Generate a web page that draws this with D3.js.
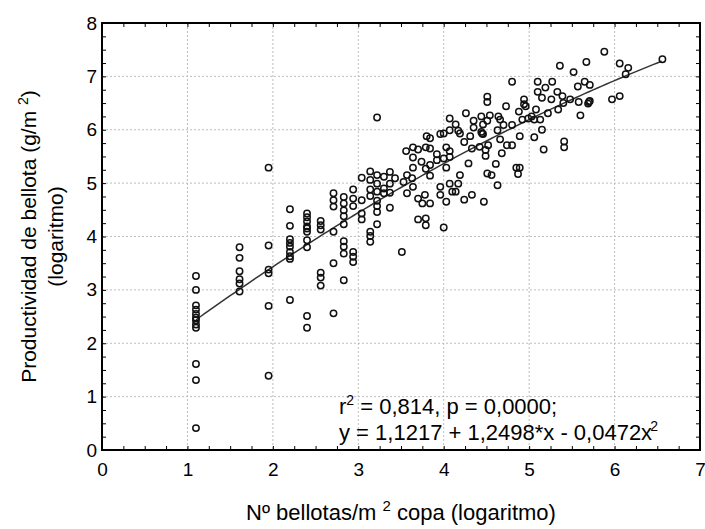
<!DOCTYPE html>
<html>
<head>
<meta charset="utf-8">
<script src="https://cdn.jsdelivr.net/npm/d3@7"></script>
<style>
  body { margin: 0; background: #fff; }
  svg { display: block; }
  text { font-family: "Liberation Sans", Arial, sans-serif; fill: #000; }
</style>
</head>
<body>
<div id="chart"></div>
<script>
// axis ticks
const xTicks = [0, 1, 2, 3, 4, 5, 6, 7];
const yTicks = [0, 1, 2, 3, 4, 5, 6, 7, 8];

// fitted quadratic printed on the chart: y = a + b*x + c*x^2
const fitCoef = [1.1217, 1.2498, -0.0472];
const fitRange = [1.10, 6.56];

const puntosBajos = [
  [1.10, 3.26], [1.10, 3.00], [1.10, 2.71], [1.10, 2.63], [1.10, 2.55], [1.10, 2.48],
  [1.10, 2.43], [1.10, 2.35], [1.10, 2.29], [1.10, 1.61], [1.10, 1.31], [1.10, 0.41],
  [1.61, 3.80], [1.61, 3.60], [1.61, 3.35], [1.61, 3.20], [1.61, 3.12], [1.61, 2.97],
  [1.95, 5.29], [1.95, 3.83], [1.95, 3.38], [1.95, 3.31], [1.95, 2.70], [1.95, 1.39],
  [2.20, 4.51], [2.20, 4.20], [2.20, 3.95], [2.20, 3.88], [2.20, 3.81], [2.20, 3.71],
  [2.20, 3.63], [2.20, 3.58], [2.20, 2.81],
  [2.40, 4.43], [2.40, 4.36], [2.40, 4.28], [2.40, 4.19], [2.40, 4.15], [2.40, 4.09],
  [2.40, 3.93], [2.40, 3.80], [2.40, 2.51], [2.40, 2.29],
  [2.56, 4.29], [2.56, 4.21], [2.56, 4.13], [2.56, 3.32], [2.56, 3.23], [2.56, 3.08],
  [2.71, 4.81], [2.71, 4.68], [2.71, 4.56], [2.71, 4.09], [2.71, 3.50], [2.71, 2.56],
  [2.83, 4.74], [2.83, 4.62], [2.83, 4.49], [2.83, 4.38], [2.83, 4.23], [2.83, 3.91],
  [2.83, 3.81], [2.83, 3.68], [2.83, 3.18],
  [2.94, 4.88], [2.94, 4.71], [2.94, 4.57], [2.94, 3.71], [2.94, 3.62], [2.94, 3.52],
  [3.04, 5.10], [3.04, 4.68], [3.04, 4.43], [3.04, 4.32],
  [3.14, 5.22], [3.14, 5.06], [3.14, 4.88], [3.14, 4.76], [3.14, 4.09], [3.14, 4.01], [3.14, 3.90],
  [3.22, 6.23], [3.22, 5.15], [3.22, 4.99], [3.22, 4.84], [3.22, 4.67], [3.22, 4.57],
  [3.22, 4.46], [3.22, 4.23],
  [3.30, 5.12], [3.30, 4.90], [3.30, 4.81],
  [3.37, 5.21], [3.37, 4.99], [3.37, 4.82], [3.37, 4.54],
  [3.43, 5.09]
];

const puntosMedios = [
  [3.51, 3.71], [3.70, 4.32], [3.79, 4.34], [3.79, 4.21], [4.00, 4.17],
  [3.96, 4.93], [3.96, 4.78], [4.03, 4.65], [4.10, 4.84], [4.14, 4.84], [4.17, 4.99],
  [4.19, 5.15], [4.07, 4.99], [4.24, 4.69], [4.33, 4.78], [4.29, 5.37], [4.47, 4.65],
  [4.51, 5.18], [4.56, 5.15], [4.61, 5.36], [4.63, 4.96], [4.68, 5.56], [4.74, 5.71],
  [4.80, 5.71], [4.66, 5.82], [4.87, 5.17], [4.89, 5.29], [4.89, 5.88], [5.06, 5.86],
  [5.17, 5.63], [5.15, 6.00], [5.41, 5.78], [5.41, 5.67], [5.60, 6.27],
  [3.80, 5.88], [3.84, 5.84], [3.56, 5.60], [3.64, 5.67], [3.70, 5.63], [3.79, 5.67],
  [3.84, 5.65], [3.92, 5.54], [4.03, 5.67], [4.07, 5.60], [4.07, 5.49], [4.00, 5.46],
  [3.64, 5.48], [3.74, 5.40], [3.84, 5.34], [3.92, 5.43], [4.03, 5.29], [3.79, 5.27],
  [3.64, 5.29], [3.84, 5.14], [3.57, 5.15], [3.63, 5.09], [3.53, 5.02], [3.64, 4.93],
  [3.57, 4.81], [3.70, 4.71], [3.75, 4.62], [3.84, 4.62], [3.78, 4.78],
  [4.45, 5.93], [4.33, 5.65], [4.42, 5.68], [4.49, 5.62], [4.49, 5.51], [4.52, 5.71],
  [4.85, 5.29], [4.35, 6.17]
];

const puntosAltos = [
  [4.80, 6.90], [5.10, 6.90], [5.19, 6.79], [5.27, 6.90], [5.36, 7.20], [5.52, 7.08],
  [5.67, 7.27], [5.57, 6.81], [5.65, 6.90], [5.71, 6.84], [5.70, 6.52], [5.10, 6.71],
  [5.15, 6.60], [5.26, 6.57], [5.33, 6.71], [5.39, 6.63], [5.48, 6.57], [5.58, 6.52],
  [5.34, 6.38], [5.40, 6.50], [5.22, 6.31], [5.13, 6.19], [5.06, 6.19], [5.03, 6.25],
  [5.08, 6.38], [4.94, 6.57], [4.94, 6.48], [4.96, 6.44], [4.88, 6.34], [4.92, 6.19],
  [4.99, 6.21], [4.73, 6.44], [4.51, 6.62], [4.51, 6.52], [4.26, 6.31], [4.07, 6.21],
  [4.14, 6.10], [4.44, 6.25], [4.54, 6.27], [4.51, 6.17], [4.64, 6.25], [4.66, 6.19],
  [4.70, 6.09], [4.80, 6.09], [4.63, 5.99], [4.46, 6.10], [4.35, 6.04], [4.44, 5.96],
  [4.46, 5.92], [4.31, 5.88], [4.17, 5.98], [4.19, 5.93], [4.24, 5.77], [4.00, 5.93],
  [3.96, 5.92], [4.07, 5.99],
  [5.88, 7.46], [6.06, 7.24], [6.16, 7.16], [6.13, 7.04], [6.56, 7.32], [5.71, 6.54],
  [5.69, 6.49], [5.97, 6.57], [6.06, 6.63]
];

const puntos = puntosBajos.concat(puntosMedios, puntosAltos);

const width = 705, height = 529;
const margin = { top: 23, right: 5, bottom: 79, left: 102 };
const innerW = width - margin.left - margin.right;
const innerH = height - margin.top - margin.bottom;
const font = '"Liberation Sans", Arial, sans-serif';

const svg = d3.select('#chart').append('svg')
  .attr('width', width).attr('height', height);
const g = svg.append('g').attr('transform', `translate(${margin.left},${margin.top})`);

const x = d3.scaleLinear().domain([0, 7]).range([0, innerW]);
const y = d3.scaleLinear().domain([0, 8]).range([innerH, 0]);

// dotted grid at the integer ticks
g.append('g').selectAll('line').data(xTicks.slice(1, -1)).join('line')
  .attr('x1', d => x(d)).attr('x2', d => x(d)).attr('y1', 0).attr('y2', innerH)
  .attr('stroke', '#bdbdbd').attr('stroke-dasharray', '2,2');
g.append('g').selectAll('line').data(yTicks.slice(1, -1)).join('line')
  .attr('y1', d => y(d)).attr('y2', d => y(d)).attr('x1', 0).attr('x2', innerW)
  .attr('stroke', '#bdbdbd').attr('stroke-dasharray', '2,2');

// inward ticks on all four sides, minor every 0.25
const xMinor = d3.range(0, 7.001, 0.25);
const yMinor = d3.range(0, 8.001, 0.25);
const tickStyle = sel => {
  sel.select('.domain').remove();
  sel.selectAll('line').attr('stroke', '#000').attr('stroke-width', 1);
};
g.append('g').attr('transform', `translate(0,${innerH})`)
  .call(d3.axisBottom(x).tickValues(xMinor).tickSizeInner(-4).tickSizeOuter(0).tickFormat(''))
  .call(tickStyle);
g.append('g')
  .call(d3.axisTop(x).tickValues(xMinor).tickSizeInner(-4).tickSizeOuter(0).tickFormat(''))
  .call(tickStyle);
g.append('g')
  .call(d3.axisLeft(y).tickValues(yMinor).tickSizeInner(-4).tickSizeOuter(0).tickFormat(''))
  .call(tickStyle);
g.append('g').attr('transform', `translate(${innerW},0)`)
  .call(d3.axisRight(y).tickValues(yMinor).tickSizeInner(-4).tickSizeOuter(0).tickFormat(''))
  .call(tickStyle);

// tick labels
g.append('g').attr('transform', `translate(0,${innerH})`)
  .call(d3.axisBottom(x).tickValues(xTicks).tickSize(0).tickPadding(13).tickFormat(d3.format('d')))
  .call(sel => sel.select('.domain').remove())
  .selectAll('text').attr('font-size', 19).style('font-family', font);
g.append('g')
  .call(d3.axisLeft(y).tickValues(yTicks).tickSize(0).tickPadding(5).tickFormat(d3.format('d')))
  .call(sel => sel.select('.domain').remove())
  .selectAll('text').attr('font-size', 19).style('font-family', font);

// frame
g.append('rect').attr('width', innerW).attr('height', innerH)
  .attr('fill', 'none').attr('stroke', '#000').attr('stroke-width', 2);

// fitted curve
const fitX = d3.range(fitRange[0], fitRange[1] + 0.001, 0.05);
const fit = v => fitCoef[0] + fitCoef[1] * v + fitCoef[2] * v * v;
g.append('path').datum(fitX)
  .attr('d', d3.line().x(d => x(d)).y(d => y(fit(d))))
  .attr('fill', 'none').attr('stroke', '#333').attr('stroke-width', 1.5);

// points
g.append('g').selectAll('circle').data(puntos).join('circle')
  .attr('cx', d => x(d[0])).attr('cy', d => y(d[1])).attr('r', 3.2)
  .attr('fill', 'none').attr('stroke', '#111').attr('stroke-width', 1.5);

// statistics text
const stats = svg.append('g').attr('font-size', 22);
const l1 = stats.append('text').attr('x', 339).attr('y', 414);
l1.append('tspan').text('r');
l1.append('tspan').attr('font-size', 14).attr('dy', -9).text('2');
l1.append('tspan').attr('dy', 9).text(' = 0,814, p = 0,0000;');
const l2 = stats.append('text').attr('x', 339).attr('y', 440);
l2.append('tspan').text('y = 1,1217 + 1,2498*x - 0,0472x');
l2.append('tspan').attr('font-size', 14).attr('dy', -9).attr('dx', -2).text('2');

// axis titles
const xt = svg.append('text').attr('x', margin.left + innerW / 2).attr('y', 520)
  .attr('text-anchor', 'middle').attr('font-size', 22);
xt.append('tspan').text('Nº bellotas/m ');
xt.append('tspan').attr('font-size', 15).attr('dy', -9).text('2');
xt.append('tspan').attr('dy', 9).text(' copa (logaritmo)');

const yt = svg.append('g').attr('transform', `translate(36,${margin.top + innerH / 2}) rotate(-90)`);
const yt1 = yt.append('text').attr('text-anchor', 'middle').attr('font-size', 21);
yt1.append('tspan').text('Productividad de bellota (g/m ');
yt1.append('tspan').attr('font-size', 14).attr('dy', -8).text('2');
yt1.append('tspan').attr('dy', 8).text(')');
yt.append('text').attr('text-anchor', 'middle').attr('font-size', 21).attr('y', 27).text('(logaritmo)');
</script>
</body>
</html>
